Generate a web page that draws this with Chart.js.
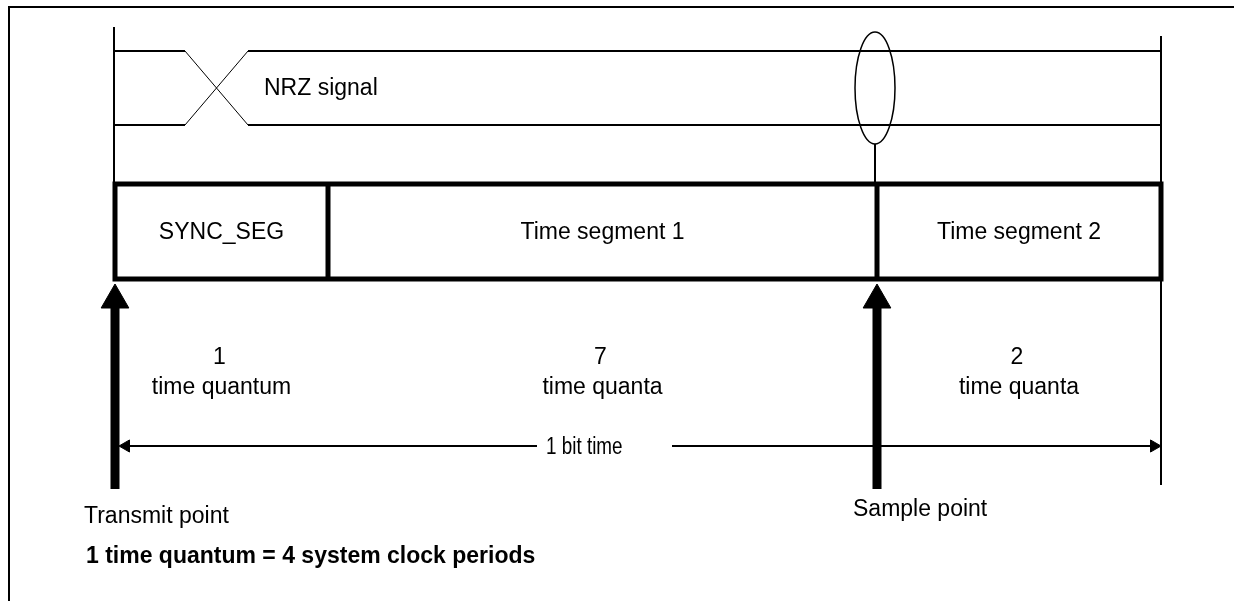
<!DOCTYPE html>
<html>
<head>
<meta charset="utf-8">
<title>Bit timing</title>
<script src="https://cdn.jsdelivr.net/npm/chart.js@4.4.1/dist/chart.umd.min.js"></script>
<style>
  html, body { margin: 0; padding: 0; background: #fff; }
  canvas { display: block; }
</style>
</head>
<body>
<canvas id="bitTiming" width="1234" height="601"></canvas>
<script>
// one bit time, split into its segments
const segmentNames = ["SYNC_SEG", "Time segment 1", "Time segment 2"];
const segmentQuanta = [1, 7, 2];
const quantaUnits = ["time quantum", "time quanta", "time quanta"];
const pointNames = ["Transmit point", "Sample point"];
const signalName = "NRZ signal";
const bitTimeName = "1 bit time";
const footNote = "1 time quantum = 4 system clock periods";

// layout in drawing units (the picture is not to scale with the quanta)
const segEdges = [115, 328, 877, 1161];
const boxTop = 184, boxBottom = 279;
const sigHigh = 51, sigLow = 125;
const dimY = 446;

const FONT = '"Liberation Sans", Arial, sans-serif';

function line(points, width, extra) {
  return Object.assign({
    data: points.map(p => ({ x: p[0], y: p[1] })),
    showLine: true,
    borderColor: "#000",
    borderWidth: width,
    pointRadius: 0,
    borderCapStyle: "butt",
    borderJoinStyle: "miter",
  }, extra || {});
}

// arrow: shaft plus a triangle point at the end
function arrow(points, width, headSize, rotation) {
  return line(points, width, {
    pointRadius: points.map((p, i) => (i === points.length - 1 ? headSize : 0)),
    pointStyle: "triangle",
    rotation: rotation,
    pointBackgroundColor: "#000",
    pointBorderColor: "#000",
    pointBorderWidth: 1,
  });
}

const left = segEdges[0], right = segEdges[segEdges.length - 1];
const sampleX = segEdges[2];

const datasets = [
  // frame
  line([[9, 601], [9, 7], [1234, 7]], 2),
  // bit borders
  line([[114, 27], [114, boxTop]], 2),
  line([[right, 36], [right, 485]], 2),
  // NRZ signal
  line([[114, sigHigh], [185, sigHigh]], 2),
  line([[114, sigLow], [185, sigLow]], 2),
  line([[185, sigHigh], [248, sigLow]], 1),
  line([[185, sigLow], [248, sigHigh]], 1),
  line([[248, sigHigh], [right, sigHigh]], 2),
  line([[248, sigLow], [right, sigLow]], 2),
  // sampling stem
  line([[875, 144], [875, boxTop]], 2),
  // segment box
  line([[left, boxTop], [right, boxTop], [right, boxBottom], [left, boxBottom], [left, boxTop], [right, boxTop]], 5),
];
segEdges.slice(1, -1).forEach(x => datasets.push(line([[x, boxTop], [x, boxBottom]], 5)));

// transmit and sample point arrows
[left, sampleX].forEach(x => datasets.push(arrow([[x, 489], [x, 300]], 9, 16, 0)));

// 1 bit time dimension line
datasets.push(arrow([[537, dimY], [126, dimY]], 2, 7, -90));
datasets.push(arrow([[672, dimY], [1154, dimY]], 2, 7, 90));

const labelPlugin = {
  id: "labels",
  afterDatasetsDraw(chart) {
    const { ctx, scales } = chart;
    const px = v => scales.x.getPixelForValue(v);
    const py = v => scales.y.getPixelForValue(v);
    ctx.save();

    // sample ellipse
    ctx.beginPath();
    ctx.lineWidth = 1.5;
    ctx.strokeStyle = "#000";
    ctx.ellipse(px(875), py(88), 20, 56, 0, 0, Math.PI * 2);
    ctx.stroke();

    ctx.fillStyle = "#000";
    ctx.textBaseline = "middle";
    ctx.font = "23px " + FONT;

    ctx.textAlign = "left";
    ctx.fillText(signalName, px(264), py(89));

    ctx.textAlign = "center";
    segmentNames.forEach((name, i) => {
      const cx = px((segEdges[i] + segEdges[i + 1]) / 2);
      ctx.fillText(name, cx, py(233));
      ctx.fillText(String(segmentQuanta[i]), cx - 2, py(358));
      ctx.fillText(quantaUnits[i], cx, py(388));
    });

    ctx.textAlign = "left";
    ctx.fillText(pointNames[0], px(84), py(517));
    ctx.fillText(pointNames[1], px(853), py(510));

    // narrow face for the bit time label
    ctx.save();
    ctx.translate(px(546), py(448));
    ctx.scale(0.82, 1);
    ctx.fillText(bitTimeName, 0, 0);
    ctx.restore();

    ctx.font = "bold 23px " + FONT;
    ctx.fillText(footNote, px(86), py(557));
    ctx.restore();
  },
};

new Chart(document.getElementById("bitTiming"), {
  type: "scatter",
  data: { datasets },
  options: {
    responsive: false,
    animation: false,
    layout: { padding: 0, autoPadding: false },
    plugins: { legend: { display: false }, tooltip: { enabled: false } },
    scales: {
      x: { type: "linear", min: 0, max: 1234, display: false },
      y: { type: "linear", min: 0, max: 601, reverse: true, display: false },
    },
  },
  plugins: [labelPlugin],
});
</script>
</body>
</html>
